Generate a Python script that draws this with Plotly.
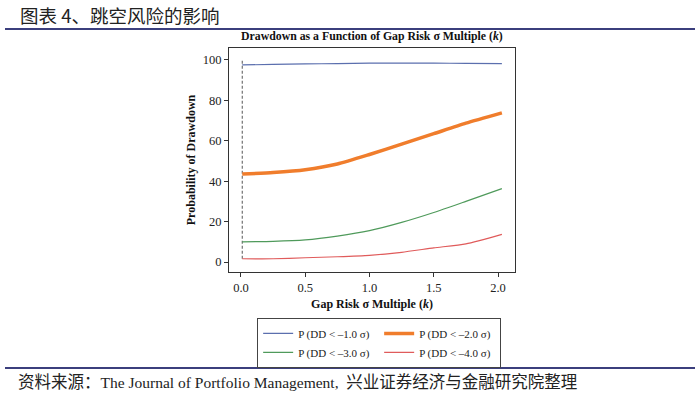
import plotly.graph_objects as go

k_values = [0.01, 0.25, 0.5, 0.75, 1.0, 1.25, 1.5, 1.75, 2.03]
p_dd_1 = [97.5, 97.8, 98.0, 98.2, 98.4, 98.4, 98.4, 98.3, 98.2]
p_dd_2 = [43.5, 44.3, 45.7, 48.5, 53.2, 58.3, 63.5, 68.7, 73.8]
p_dd_3 = [10.0, 10.2, 10.9, 12.8, 15.5, 19.6, 24.5, 30.0, 36.3]
p_dd_4 = [1.6, 1.6, 2.1, 2.6, 3.3, 4.8, 7.0, 9.0, 13.7]
series_names = ["P (DD < \u20131.0 \u03c3)", "P (DD < \u20132.0 \u03c3)",
                "P (DD < \u20133.0 \u03c3)", "P (DD < \u20134.0 \u03c3)"]
x_ticks = [0.0, 0.5, 1.0, 1.5, 2.0]
y_ticks = [0, 20, 40, 60, 80, 100]
marker_k = [0.01, 0.01]
marker_y = [1.6, 100]

SERIF = "Liberation Serif, Times New Roman, serif"
CJK = "Noto Sans CJK SC"

fig = go.Figure()
fig.add_trace(go.Scatter(x=marker_k, y=marker_y, mode="lines",
                         line=dict(color="#555555", width=1, dash="3px,2px"),
                         showlegend=False, hoverinfo="skip"))
styles = [("#5b6fae", 1.2), ("#f07d2c", 3.5), ("#4f9a5b", 1.2), ("#e05b5b", 1.2)]
for name, ys, (c, w) in zip(series_names, [p_dd_1, p_dd_2, p_dd_3, p_dd_4], styles):
    fig.add_trace(go.Scatter(x=k_values, y=ys, mode="lines", name=name,
                             line=dict(color=c, width=w, shape="spline", smoothing=0.6)))

axis_common = dict(showline=True, linecolor="#333333", linewidth=1, mirror=True,
                   ticks="outside", ticklen=4, tickcolor="#333333", showgrid=False,
                   zeroline=False, tickfont=dict(family=SERIF, size=12.5, color="#222"))
fig.update_layout(
    width=700, height=396,
    margin=dict(l=229, r=185, t=48, b=124, autoexpand=False),
    paper_bgcolor="white", plot_bgcolor="white",
    xaxis=dict(range=[-0.093, 2.132], tickvals=x_ticks,
               ticktext=[f"{v:.1f}" for v in x_ticks],
               title=dict(text="<b>Gap Risk \u03c3 Multiple (<i>k</i>)</b>",
                          font=dict(family=SERIF, size=12, color="#111"), standoff=5),
               **axis_common),
    yaxis=dict(range=[-4.95, 105.9], tickvals=y_ticks,
               title=dict(text="<b>Probability of Drawdown</b>",
                          font=dict(family=SERIF, size=12, color="#111"), standoff=4),
               **axis_common),
    legend=dict(orientation="h", x=0.525, xanchor="center", y=-0.205, yanchor="top",
                entrywidth=76, entrywidthmode="pixels",
                bordercolor="#444444", borderwidth=1,
                font=dict(family=SERIF, size=11, color="#222"),
                tracegroupgap=0, itemwidth=30),
    showlegend=True,
)

fig.add_annotation(text="<b>Drawdown as a Function of Gap Risk \u03c3 Multiple (<i>k</i>)</b>",
                   xref="paper", yref="paper", x=0.5, y=1.0, yanchor="bottom", yshift=3,
                   showarrow=False, font=dict(family=SERIF, size=11.8, color="#111"))
fig.add_annotation(text="图表 4、跳空风险的影响", xref="paper", yref="paper",
                   x=-229/286, xshift=18, xanchor="left", y=1 + 33/224, yanchor="middle",
                   showarrow=False, font=dict(family=CJK, size=18.5, color="#222"))
fig.add_annotation(text="资料来源：<span style='font-family:Liberation Serif;font-size:15.5px'>The Journal of Portfolio Management,&nbsp;&nbsp;</span>兴业证券经济与金融研究院整理",
                   xref="paper", yref="paper",
                   x=-229/286, xshift=16, xanchor="left", y=-(381-272)/224, yanchor="middle",
                   showarrow=False, font=dict(family=CJK, size=16.5, color="#222"))
fig.add_shape(type="line", xref="paper", yref="paper",
              x0=-224/286, x1=(695-229)/286, y0=(272-29)/224, y1=(272-29)/224,
              line=dict(color="#3b3f7d", width=2))
fig.add_shape(type="line", xref="paper", yref="paper",
              x0=-224/286, x1=(695-229)/286, y0=(272-368)/224, y1=(272-368)/224,
              line=dict(color="#3b3f7d", width=2))

fig.write_html("out.html", config={"displayModeBar": False},
               post_script="document.body.style.margin='0';document.body.style.overflow='hidden';")
